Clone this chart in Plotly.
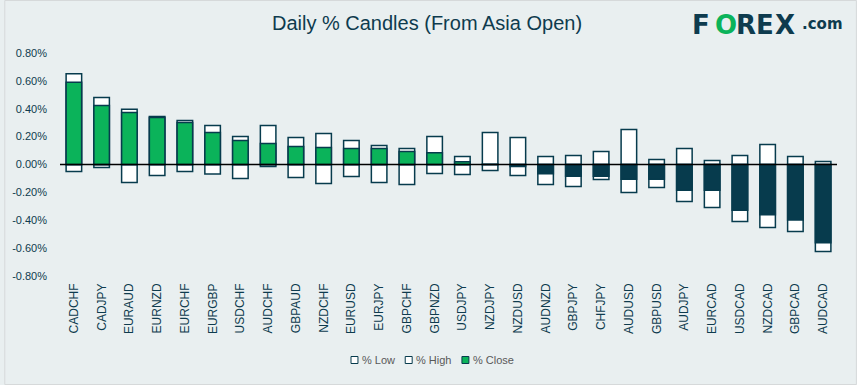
import plotly.graph_objects as go

categories = ["CADCHF", "CADJPY", "EURAUD", "EURNZD", "EURCHF", "EURGBP", "USDCHF",
              "AUDCHF", "GBPAUD", "NZDCHF", "EURUSD", "EURJPY", "GBPCHF", "GBPNZD",
              "USDJPY", "NZDJPY", "NZDUSD", "AUDNZD", "GBPJPY", "CHFJPY", "AUDUSD",
              "GBPUSD", "AUDJPY", "EURCAD", "USDCAD", "NZDCAD", "GBPCAD", "AUDCAD"]
pct_high = [0.652, 0.480, 0.397, 0.344, 0.315, 0.280, 0.201, 0.280, 0.194, 0.222,
            0.172, 0.136, 0.115, 0.201, 0.057, 0.229, 0.194, 0.057, 0.065, 0.093,
            0.251, 0.036, 0.115, 0.029, 0.065, 0.143, 0.057, 0.022]
pct_low = [-0.050, -0.022, -0.129, -0.079, -0.050, -0.069, -0.100, -0.014, -0.093, -0.136,
           -0.086, -0.129, -0.143, -0.065, -0.072, -0.043, -0.079, -0.143, -0.158, -0.108,
           -0.201, -0.165, -0.265, -0.308, -0.409, -0.452, -0.480, -0.624]
pct_close = [0.590, 0.423, 0.373, 0.337, 0.301, 0.229, 0.172, 0.151, 0.129, 0.122,
             0.115, 0.115, 0.093, 0.084, 0.019, 0.002, -0.014, -0.067, -0.084, -0.084,
             -0.105, -0.105, -0.184, -0.184, -0.328, -0.361, -0.399, -0.562]
y_ticks = [-0.8, -0.6, -0.4, -0.2, 0.0, 0.2, 0.4, 0.6, 0.8]
series_names = ["% Low", "% High", "% Close"]

NAVY = "#073B4D"
GREEN = "#0BB35A"
BG = "#E9EFF0"
TXT = "#0E3B4E"

close_colors = [GREEN if v >= 0 else NAVY for v in pct_close]

fig = go.Figure()
fig.add_trace(go.Bar(x=categories, y=pct_low, name=series_names[0],
                     marker=dict(color="white", line=dict(color=NAVY, width=1.5))))
fig.add_trace(go.Bar(x=categories, y=pct_high, name=series_names[1],
                     marker=dict(color="white", line=dict(color=NAVY, width=1.5))))
fig.add_trace(go.Bar(x=categories, y=pct_close, name=series_names[2],
                     marker=dict(color=close_colors, line=dict(color=NAVY, width=1.5))))

L, R, T, B = 56, 20, 53, 109
W, H = 857, 385
pw, ph = W - L - R, H - T - B

def px(xp):
    return (xp - L) / pw

def py(yp):
    return (H - B - yp) / ph

annotations = []
shapes = []

# logo
logo = [("F", 700, TXT), ("O", 725, GREEN), ("R", 745.5, TXT), ("E", 765, TXT), ("X", 784.5, TXT)]
for ch, xc, col in logo:
    annotations.append(dict(text="<b>" + ch + "</b>", x=px(xc), y=py(25), xref="paper", yref="paper",
                            xanchor="center", yanchor="middle", showarrow=False,
                            font=dict(family="DejaVu Sans", size=26, color=col)))
annotations.append(dict(text="<b>.com</b>", x=px(800), y=py(24), xref="paper", yref="paper",
                        xanchor="left", yanchor="middle", showarrow=False,
                        font=dict(family="DejaVu Sans", size=15, color=TXT)))

# custom compact legend
legend_items = [(series_names[0], 348.5, "white"), (series_names[1], 403, "white"),
                (series_names[2], 460, GREEN)]
for name, x0, fill in legend_items:
    shapes.append(dict(type="rect", xref="paper", yref="paper",
                       x0=px(x0), x1=px(x0 + 7), y0=py(363.5), y1=py(356.5),
                       fillcolor=fill, line=dict(color=NAVY, width=1), layer="above"))
    annotations.append(dict(text=name, x=px(x0 + 9), y=py(360), xref="paper", yref="paper",
                            xanchor="left", yanchor="middle", showarrow=False,
                            font=dict(family="Liberation Sans", size=11, color="#595959")))

shapes.append(dict(type="line", xref="paper", yref="y", x0=0, x1=1, y0=0, y1=0,
                   line=dict(color="black", width=1.5), layer="above"))
shapes.append(dict(type="rect", xref="paper", yref="paper", x0=px(0.5), x1=px(856.5),
                   y0=py(384.5), y1=py(0.5), line=dict(color="#D6D9DA", width=1), layer="below"))

fig.update_layout(
    width=W, height=H,
    margin=dict(l=L, r=R, t=T, b=B),
    paper_bgcolor=BG, plot_bgcolor=BG,
    barmode="overlay", bargap=0.44,
    title=dict(text="Daily % Candles (From Asia Open)", x=427 / W, xanchor="center",
               y=1 - 23 / H, yanchor="middle",
               font=dict(family="Arial", size=20, color=TXT)),
    font=dict(family="Arial", color=TXT),
    showlegend=False,
    xaxis=dict(tickangle=-90, tickfont=dict(family="Arial", size=12, color=TXT),
               showgrid=False, showline=False, ticks="", ticklabelstandoff=4),
    yaxis=dict(range=[-0.8, 0.8], tickvals=y_ticks, ticktext=[f"{v:.2f}%" for v in y_ticks],
               tickfont=dict(family="Arial", size=11, color=TXT), showgrid=False,
               zeroline=False, showline=False, ticks="", ticklabelstandoff=12),
    annotations=annotations,
    shapes=shapes,
)

fig.write_html("out.html", config={"displayModeBar": False},
               post_script="document.body.style.margin='0';")
